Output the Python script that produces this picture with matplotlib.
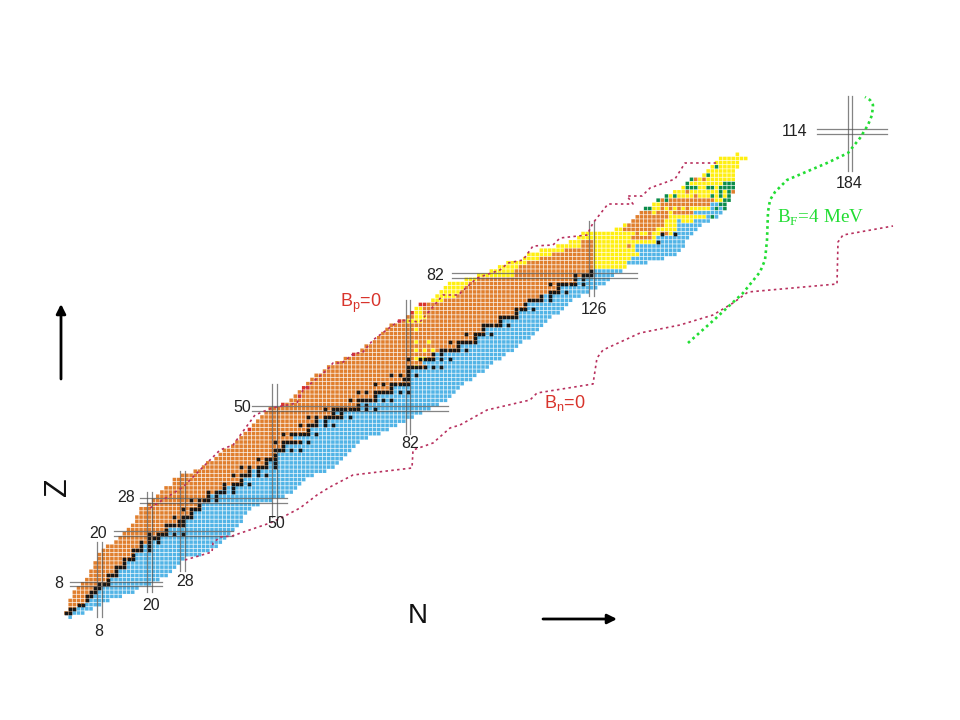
import matplotlib
matplotlib.use("Agg")
import matplotlib.pyplot as plt

plt.rcParams['font.family'] = ['Liberation Sans', 'DejaVu Sans']

# per row of the chart, index = Z (0..111)
first_n = [1, 0, 1, 1, 1, 2, 2, 3, 4, 5,
           6, 6, 7, 7, 8, 8, 9, 10, 12, 13,
           14, 15, 16, 17, 17, 18, 18, 20, 21, 22,
           23, 24, 26, 26, 28, 31, 33, 34, 36, 37,
           38, 40, 41, 42, 43, 44, 45, 46, 47, 48,
           49, 52, 54, 55, 56, 57, 58, 59, 60, 62,
           63, 65, 67, 69, 71, 72, 74, 75, 76, 77,
           78, 80, 82, 83, 84, 85, 88, 89, 90, 91,
           92, 96, 99, 102, 104, 106, 110, 111, 114, 118,
           121, 123, 124, 132, 134, 136, 137, 138, 139, 141,
           142, 144, 146, 148, 149, 150, 153, 154, 155, 156,
           157, 161]
last_n = [1, 4, 6, 8, 10, 13, 16, 17, 20, 22,
          24, 25, 26, 27, 28, 32, 34, 36, 37, 38,
          39, 40, 41, 42, 42, 43, 44, 46, 49, 52,
          54, 55, 56, 57, 59, 62, 64, 65, 66, 67,
          68, 69, 70, 72, 75, 77, 79, 81, 83, 85,
          87, 89, 91, 92, 93, 94, 95, 97, 98, 100,
          101, 102, 104, 105, 107, 108, 109, 111, 112, 113,
          114, 115, 116, 118, 119, 120, 121, 123, 125, 127,
          129, 130, 131, 133, 134, 139, 143, 146, 147, 148,
          148, 149, 150, 151, 152, 154, 156, 157, 158, 158,
          159, 159, 160, 160, 160, 160, 160, 160, 161, 161,
          163, 161]
blue_from = [1, 2, 3, 5, 6, 7, 8, 9, 11, 11,
             13, 13, 15, 15, 17, 17, 19, 19, 21, 23,
             25, 25, 29, 29, 31, 31, 33, 33, 35, 35,
             37, 39, 43, 43, 45, 45, 49, 49, 51, 51,
             53, 53, 57, 55, 59, 59, 61, 61, 67, 65,
             71, 71, 75, 75, 79, 79, 83, 83, 83, 83,
             87, 86, 89, 89, 95, 95, 99, 99, 101, 101,
             105, 105, 109, 109, 111, 111, 115, 115, 119, 119,
             123, 123, 127, 127, 135, 135, 136, 138, 137, 137,
             142, 142, 146, 147, 147, 151, 154, 151, 155, 155,
             200, 200, 200, 200, 200, 200, 200, 200, 200, 200,
             200, 200]

# (Z, first N, last N)
yellow_spans = [(60, 84, 84), (62, 84, 86), (64, 84, 84), (64, 86, 86), (64, 88, 88),
                (66, 84, 84), (66, 87, 87), (69, 84, 84), (71, 82, 85), (72, 84, 86),
                (73, 84, 85), (74, 84, 85), (76, 88, 90), (77, 89, 93), (78, 90, 94),
                (79, 91, 95), (80, 92, 96), (81, 96, 98), (82, 99, 107), (83, 102, 107),
                (84, 104, 108), (84, 127, 134), (85, 106, 110), (85, 127, 134),
                (86, 110, 113), (86, 127, 135), (87, 111, 116), (87, 127, 137),
                (88, 114, 119), (88, 127, 136), (89, 118, 123), (89, 127, 136),
                (90, 121, 123), (90, 127, 141), (91, 123, 135), (91, 141, 141),
                (92, 124, 136), (92, 138, 139), (92, 141, 142), (92, 145, 145),
                (93, 132, 133), (93, 142, 146), (94, 134, 134), (94, 144, 146),
                (95, 144, 150), (96, 145, 153), (97, 141, 141), (97, 145, 145),
                (98, 141, 142), (98, 144, 144), (98, 146, 146), (98, 148, 148),
                (98, 150, 154), (99, 141, 142), (100, 156, 159), (101, 144, 159),
                (102, 146, 160), (103, 148, 160), (104, 149, 160), (105, 150, 160),
                (106, 153, 160), (107, 154, 160), (108, 155, 161), (109, 156, 161),
                (110, 157, 163), (111, 161, 161)]
orange_n = [135, 151, 153, 149, 160, 151]
orange_z = [89, 105, 105, 102, 102, 101]
blue_n = [147]
blue_z = [95]
green_n = [156, 154, 150, 149, 149, 150, 151, 154, 155, 158, 159, 160, 157, 158, 159, 160,
           157, 159, 157, 159, 155, 158, 159, 157, 158, 156, 158, 155, 144, 146, 142, 144,
           139, 140]
green_z = [108, 106, 105, 104, 103, 103, 103, 103, 103, 104, 104, 104, 103, 103, 103, 103,
           102, 102, 101, 101, 101, 100, 100, 99, 99, 98, 98, 96, 101, 101, 100, 100,
           98, 98]
red_n = [44, 52, 57, 58, 56, 69, 85, 86, 83, 80]
red_z = [45, 51, 55, 55, 53, 63, 75, 75, 73, 71]

stable_by_z = {
    1: [0, 1], 2: [1, 2], 3: [3, 4], 4: [5], 5: [5, 6], 6: [6, 7], 7: [7, 8], 8: [8, 9, 10],
    9: [10], 10: [10, 11, 12], 11: [12], 12: [12, 13, 14], 13: [14], 14: [14, 15, 16],
    15: [16], 16: [16, 17, 18, 20], 17: [18, 20], 18: [18, 20, 22], 19: [20, 21, 22],
    20: [20, 22, 23, 24, 26, 28], 21: [24], 22: [24, 25, 26, 27, 28], 23: [27, 28],
    24: [26, 28, 29, 30], 25: [30], 26: [28, 30, 31, 32], 27: [32], 28: [30, 32, 33, 34, 36],
    29: [34, 36], 30: [34, 36, 37, 38, 40], 31: [38, 40], 32: [38, 40, 41, 42, 44], 33: [42],
    34: [40, 42, 43, 44, 46, 48], 35: [44, 46], 36: [42, 44, 46, 47, 48, 50], 37: [48, 50],
    38: [46, 48, 49, 50], 39: [50], 40: [50, 51, 52, 54, 56], 41: [52],
    42: [50, 52, 53, 54, 55, 56, 58], 44: [52, 54, 55, 56, 57, 58, 60], 45: [58],
    46: [56, 58, 59, 60, 62, 64], 47: [60, 62], 48: [58, 60, 62, 63, 64, 65, 66, 68],
    49: [64, 66], 50: [62, 64, 65, 66, 67, 68, 69, 70, 72, 74], 51: [70, 72],
    52: [68, 70, 71, 72, 73, 74, 76, 78], 53: [74], 54: [70, 72, 74, 75, 76, 77, 78, 80, 82],
    55: [78], 56: [74, 76, 78, 79, 80, 81, 82], 57: [81, 82], 58: [78, 80, 82, 84], 59: [82],
    60: [82, 83, 84, 85, 86, 88, 90], 62: [82, 85, 86, 87, 88, 90, 92], 63: [88, 90],
    64: [90, 91, 92, 93, 94, 96], 65: [94], 66: [92, 94, 95, 96, 97, 98], 67: [98],
    68: [96, 98, 99, 100, 102], 69: [100], 70: [100, 101, 102, 103, 104, 106], 71: [104],
    72: [104, 105, 106, 107, 108], 73: [108], 74: [108, 109, 110, 112], 75: [110],
    76: [111, 112, 113, 114, 116], 77: [114, 116], 78: [116, 117, 118, 120], 79: [118],
    80: [116, 118, 119, 120, 121, 122, 124], 81: [122, 124], 82: [122, 124, 125, 126],
    83: [126], 90: [142], 92: [143, 146],
}

# shell closures: label, position on the chart, extent of the double line
magic_n_labels = ['8', '20', '28', '50', '82', '126', '184']
magic_n_pos = [8, 20, 28, 50, 82, 126, 188]
magic_n_z0 = [0, 6, 11, 24, 44, 77, 107]
magic_n_z1 = [18, 30, 35, 56, 76, 95, 125]
magic_z_labels = ['8', '20', '28', '50', '82', '114']
magic_z_pos = [8, 20, 28, 50, 82, 116.5]
magic_z_n0 = [1, 11.5, 17.7, 44.6, 92.5, 180]
magic_z_n1 = [23, 40, 53, 91.5, 137, 197]

# dotted curves, picture pixels
bn_x = [185, 212, 213, 220, 232, 270, 283, 300, 317, 330, 353, 412, 413, 433, 450, 460, 487,
        530, 537, 593, 597, 603, 640, 680, 713, 733, 748, 837, 838, 843, 893]
bn_y = [560, 552, 543, 537, 536, 523, 517, 508, 495, 487, 475, 468, 450, 443, 428, 425, 410,
        400, 393, 384, 358, 350, 333, 325, 315, 303, 292, 284, 242, 235, 226]
bp_x = [150, 183, 210, 220, 233, 255, 272, 297, 303, 327, 333, 342, 353, 363, 373, 400, 420,
        443, 458, 477, 500, 508, 523, 533, 553, 560, 587, 593, 608, 633, 627, 642, 650, 675,
        685, 717]
bp_y = [508, 487, 460, 450, 445, 415, 408, 403, 390, 370, 363, 363, 354, 352, 340, 320, 322,
        295, 295, 278, 270, 263, 260, 246, 245, 238, 235, 223, 204, 204, 196, 196, 188, 179,
        163, 163]
bf_x = [688, 715, 743, 760, 765, 767, 768, 770, 775, 787, 827, 848, 860, 868, 872, 873, 870, 865]
bf_y = [343, 319, 293, 272, 260, 240, 212, 200, 192, 180, 163, 153, 138, 125, 115, 105, 100, 97]

ORANGE = '#E07F2E'
BLUE = '#52B4E6'
YELLOW = '#FFEF10'
GREEN = '#0B8C4A'
RED = '#D8342C'
CURVE = '#B8305E'

fig = plt.figure(figsize=(9.6, 7.2), dpi=100)

# chart axes in N, Z: 4.17 px per nuclide, H-1 sits at pixel (66, 613)
ax = fig.add_axes([0, 0, 1, 1])
ax.set_xlim((0 - 66) / 4.17, (960 - 66) / 4.17)
ax.set_ylim((617.17 - 720) / 4.17, 617.17 / 4.17)
ax.axis('off')

cell_colour = {}
for z in range(len(first_n)):
    for n in range(first_n[z], last_n[z] + 1):
        cell_colour[(n, z)] = BLUE if n >= blue_from[z] else ORANGE
for z, n0, n1 in yellow_spans:
    for n in range(n0, n1 + 1):
        cell_colour[(n, z)] = YELLOW
for n, z in zip(orange_n, orange_z):
    cell_colour[(n, z)] = ORANGE
for n, z in zip(blue_n, blue_z):
    cell_colour[(n, z)] = BLUE
for n, z in zip(green_n, green_z):
    cell_colour[(n, z)] = GREEN
for n, z in zip(red_n, red_z):
    cell_colour[(n, z)] = RED

# snap off, otherwise the cells land on whole pixels and the grid turns uneven
ax.scatter([k[0] for k in cell_colour], [k[1] for k in cell_colour],
           c=list(cell_colour.values()), marker='s', s=6.5, linewidths=0, snap=False)

sn = [n for z in stable_by_z for n in stable_by_z[z]]
sz = [z for z in stable_by_z for n in stable_by_z[z]]
ax.scatter(sn, sz, c='#161616', marker='s', s=6.8, linewidths=0, snap=False)

# double lines of the closed shells
for n, z0, z1 in zip(magic_n_pos, magic_n_z0, magic_n_z1):
    for off in (-0.55, 0.55):
        ax.plot([n + off, n + off], [z0, z1], color='#505050', lw=0.9, alpha=0.7)
for z, n0, n1 in zip(magic_z_pos, magic_z_n0, magic_z_n1):
    for off in (-0.55, 0.55):
        ax.plot([n0, n1], [z + off, z + off], color='#505050', lw=0.9, alpha=0.7)

# overlay in picture pixels for curves, labels and arrows
top = fig.add_axes([0, 0, 1, 1])
top.set_xlim(0, 960)
top.set_ylim(720, 0)
top.axis('off')

top.plot(bn_x, bn_y, color=CURVE, lw=1.2, ls=(0, (1.5, 2)))
top.plot(bp_x, bp_y, color=CURVE, lw=1.2, ls=(0, (1.5, 2)))
top.plot(bf_x, bf_y, color='#22DD33', lw=1.9, ls=(0, (1, 1.3)))

n_label_xy = [(99, 631), (151, 605), (185, 581), (276, 523), (410, 444), (594, 310), (849, 184)]
z_label_xy = [(59, 583), (98, 534), (126, 498), (242, 408), (435, 275), (795, 131)]
for txt, (x, y) in zip(magic_n_labels, n_label_xy):
    top.text(x, y, txt, fontsize=11.5, color='#222222', ha='center', va='center')
for txt, (x, y) in zip(magic_z_labels, z_label_xy):
    top.text(x, y, txt, fontsize=11.5, color='#222222', ha='center', va='center')

top.text(361, 303, r'B$_{\mathregular{p}}$=0', fontsize=13, color=RED, ha='center', va='center')
top.text(565, 403, r'B$_{\mathregular{n}}$=0', fontsize=13, color=RED, ha='center', va='center')
top.text(821, 218, r'B$_{\mathregular{F}}$=4 MeV', fontsize=13.8, color='#22DD33',
         family='Liberation Serif', ha='center', va='center')

top.text(418, 616, 'N', fontsize=20, color='#111111', ha='center', va='center')
top.text(58, 487, 'Z', fontsize=22, color='#111111', ha='center', va='center', rotation=90)

top.annotate('', xy=(61, 304), xytext=(61, 379),
             arrowprops=dict(arrowstyle='-|>', color='black', lw=2, mutation_scale=14,
                             shrinkA=0, shrinkB=0))
top.annotate('', xy=(617, 619), xytext=(543, 619),
             arrowprops=dict(arrowstyle='-|>', color='black', lw=2, mutation_scale=14,
                             shrinkA=0, shrinkB=0))

fig.savefig('out.png', dpi=100, facecolor='white')
